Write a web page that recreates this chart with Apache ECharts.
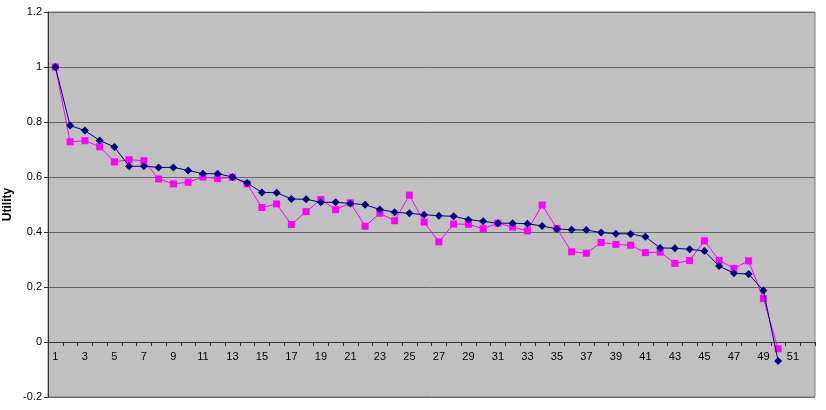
<!DOCTYPE html>
<html>
<head>
<meta charset="utf-8">
<script src="https://cdn.jsdelivr.net/npm/echarts@6/dist/echarts.min.js"></script>
<style>html,body{margin:0;padding:0;background:#fff;}#c{width:826px;height:410px;}</style>
</head>
<body>
<div id="c"></div>
<script>
var categories = ['1','2','3','4','5','6','7','8','9','10','11','12','13','14','15','16','17','18','19','20','21','22','23','24','25','26','27','28','29','30','31','32','33','34','35','36','37','38','39','40','41','42','43','44','45','46','47','48','49','50','51','52'];
var seriesNavy = [1.0,0.787,0.769,0.733,0.709,0.639,0.639,0.635,0.635,0.624,0.612,0.612,0.600,0.578,0.544,0.543,0.520,0.519,0.508,0.508,0.504,0.499,0.482,0.472,0.468,0.463,0.459,0.457,0.445,0.439,0.432,0.432,0.430,0.422,0.411,0.408,0.407,0.398,0.394,0.393,0.383,0.342,0.341,0.337,0.331,0.276,0.250,0.247,0.187,-0.069];
var seriesMagenta = [1.0,0.728,0.732,0.710,0.655,0.663,0.659,0.593,0.575,0.581,0.600,0.594,0.599,0.575,0.489,0.502,0.427,0.474,0.518,0.481,0.506,0.421,0.468,0.441,0.534,0.436,0.364,0.429,0.428,0.412,0.432,0.418,0.404,0.498,0.413,0.328,0.323,0.362,0.355,0.352,0.325,0.327,0.286,0.296,0.368,0.297,0.268,0.295,0.158,-0.025];
var yTicks = {min: -0.2, max: 1.2, interval: 0.2};

var gridTop = 12, gridBottom = 13, chartH = 410;
var plotH = chartH - gridTop - gridBottom;
// distance of the zero line above the plot bottom, derived from the y scale
var zeroOffset = -plotH * (0 - yTicks.min) / (yTicks.max - yTicks.min);

var chart = echarts.init(document.getElementById('c'), null, {renderer: 'canvas'});
chart.setOption({
  animation: false,
  backgroundColor: '#ffffff',
  textStyle: {fontFamily: 'Liberation Sans, Arial, sans-serif'},
  grid: {left: 48, right: 11, top: gridTop, bottom: gridBottom, containLabel: false, outerBoundsMode: 'none', show: true, backgroundColor: '#C0C0C0', borderColor: '#808080', borderWidth: 1},
  xAxis: {
    type: 'category',
    data: categories,
    boundaryGap: true,
    position: 'bottom',
    offset: zeroOffset,
    axisLine: {onZero: false, lineStyle: {color: '#333', width: 1}},
    axisTick: {show: true, interval: 0, length: 4, inside: false, lineStyle: {color: '#333'}},
    axisLabel: {interval: 1, color: '#000', fontSize: 11, margin: 9},
    splitLine: {show: false}
  },
  yAxis: {
    type: 'value',
    min: yTicks.min, max: yTicks.max, interval: yTicks.interval,
    name: 'Utility',
    nameLocation: 'middle',
    nameGap: 34,
    nameMoveOverlap: false,
    nameRotate: 90,
    nameTextStyle: {fontWeight: 'bold', fontSize: 12, color: '#000'},
    axisLine: {show: true, onZero: false, lineStyle: {color: '#333'}},
    axisTick: {show: true, length: 4, lineStyle: {color: '#333'}},
    axisLabel: {color: '#000', fontSize: 11, margin: 6},
    splitLine: {show: true, lineStyle: {color: '#666', width: 1}}
  },
  series: [
    {
      type: 'line', data: seriesNavy, symbol: 'diamond', symbolSize: 8,
      lineStyle: {color: '#000080', width: 1}, itemStyle: {color: '#000080'}, z: 3
    },
    {
      type: 'line', data: seriesMagenta, symbol: 'rect', symbolSize: 7,
      lineStyle: {color: '#FF00FF', width: 1}, itemStyle: {color: '#FF00FF'}, z: 2
    }
  ]
});
</script>
</body>
</html>
